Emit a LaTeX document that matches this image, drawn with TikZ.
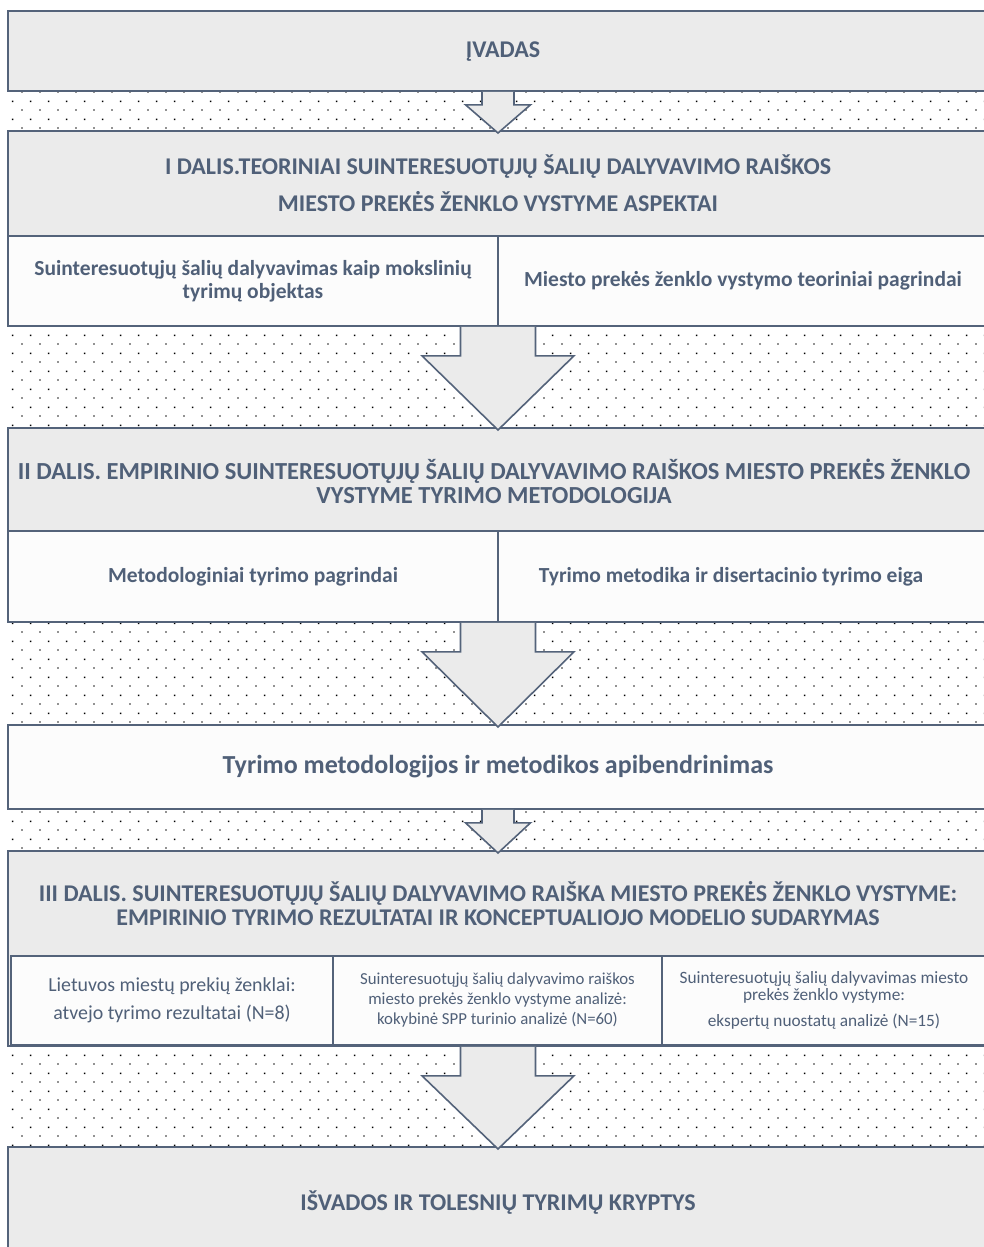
\documentclass[tikz,border=0pt]{standalone}
\usepackage{fontspec}
\setmainfont{Carlito}
\usetikzlibrary{calc,patterns.meta}

\definecolor{slate}{RGB}{84,99,122}
\definecolor{ink}{RGB}{80,96,120}
\definecolor{panel}{RGB}{235,235,235}
\definecolor{paper}{RGB}{252,252,252}

% staggered dot screen used between the blocks
\tikzdeclarepattern{
  name=stagdots,
  type=uncolored,
  bounding box={(0pt,0pt) and (18pt,18pt)},
  tile size={(18pt,18pt)},
  code={
    \fill (3.6pt,3.6pt) rectangle (5pt,5pt);
    \fill (12.6pt,12.6pt) rectangle (14pt,14pt);
  }
}

% block arrow between two stacked boxes:
% #1 upper node, #2 lower node, #3 shaft half width, #4 head half width, #5 shaft length
\newcommand\blockarrow[5]{%
  \filldraw[arrowline]
    ($(#1.south)+(-#3,0.8)$) -- ++(0,#5) -- ++(#3-#4,0)
    -- ($(#2.north)+(0,2)$)
    -- ($(#1.south)+(#4,#5+0.8)$) -- ++(#3-#4,0) -- ++(0,-#5);
}

\begin{document}
\begin{tikzpicture}[x=1pt,y=-1pt,
  frame/.style={rectangle, draw=slate, line width=1.6pt, inner sep=0pt, outer sep=0pt},
  panelbox/.style={frame, fill=panel, minimum width=980pt},
  paperbox/.style={frame, fill=paper},
  heading/.style={text=ink, align=center, font=\bfseries\fontsize{24}{28}\selectfont},
  subhead/.style={text=ink, align=center, font=\bfseries\fontsize{21.5}{23}\selectfont},
  plain/.style={text=ink, align=center},
  arrowline/.style={draw=slate, fill=panel, line width=1.6pt, line join=miter}
]
\useasboundingbox (0,0) rectangle (984,1247);
\clip (0,0) rectangle (984,1247);
\fill[white] (0,0) rectangle (984,1247);

% dotted background behind the stack
\fill[pattern=stagdots, pattern color=black] (8,91) rectangle (990,1247);

% Introduction
\node[panelbox, minimum height=80pt] (intro) at (498,51) {};
\node[heading] (introtxt) at (503,52) {ĮVADAS};

% Part I
\node[panelbox, minimum height=195pt] (p1) at (498,228.5) {};
\node[heading, font=\bfseries\fontsize{24}{37}\selectfont] (p1txt) at (498,183.5)
  {I DALIS.TEORINIAI SUINTERESUOTŲJŲ ŠALIŲ DALYVAVIMO RAIŠKOS\\MIESTO PREKĖS ŽENKLO VYSTYME ASPEKTAI};
\node[paperbox, minimum width=490pt, minimum height=90pt, subhead] (p1a) at (253,281)
  {Suinteresuotųjų šalių dalyvavimas kaip mokslinių\\tyrimų objektas};
\node[paperbox, minimum width=490pt, minimum height=90pt, subhead] (p1b) at (743,281)
  {Miesto prekės ženklo vystymo teoriniai pagrindai};

% Part II
\node[panelbox, minimum height=194pt] (p2) at (498,525) {};
\node[heading, font=\bfseries\fontsize{24.5}{24}\selectfont] (p2txt) at (494,481)
  {II DALIS. EMPIRINIO SUINTERESUOTŲJŲ ŠALIŲ DALYVAVIMO RAIŠKOS MIESTO PREKĖS ŽENKLO\\VYSTYME TYRIMO METODOLOGIJA};
\node[paperbox, minimum width=490pt, minimum height=91pt, subhead] (p2a) at (253,576.5)
  {Metodologiniai tyrimo pagrindai};
\node[paperbox, minimum width=490pt, minimum height=91pt] (p2b) at (743,576.5) {};
\node[subhead] (p2btxt) at (731,576.5) {Tyrimo metodika ir disertacinio tyrimo eiga};

% Summary of the methodology
\node[paperbox, minimum width=980pt, minimum height=84pt, text=ink,
      font=\bfseries\fontsize{26}{28}\selectfont] (summ) at (498,767)
  {Tyrimo metodologijos ir metodikos apibendrinimas};

% Part III
\node[panelbox, minimum height=195pt] (p3) at (498,948.5) {};
\node[heading, font=\bfseries\fontsize{24}{24}\selectfont] (p3txt) at (498,903.5)
  {III DALIS. SUINTERESUOTŲJŲ ŠALIŲ DALYVAVIMO RAIŠKA MIESTO PREKĖS ŽENKLO VYSTYME:\\EMPIRINIO TYRIMO REZULTATAI IR KONCEPTUALIOJO MODELIO SUDARYMAS};
\node[paperbox, minimum width=322pt, minimum height=89pt, plain,
      font=\fontsize{19.9}{28}\selectfont] (p3a) at (172,1000.5)
  {Lietuvos miestų prekių ženklai:\\atvejo tyrimo rezultatai (N=8)};
\node[paperbox, minimum width=329pt, minimum height=89pt, plain,
      font=\fontsize{16.8}{20}\selectfont] (p3b) at (497.5,1000.5)
  {Suinteresuotųjų šalių dalyvavimo raiškos\\miesto prekės ženklo vystyme analizė:\\kokybinė SPP turinio analizė (N=60)};
\node[paperbox, minimum width=324pt, minimum height=89pt, plain,
      font=\fontsize{17.3}{17}\selectfont] (p3c) at (824,1000.5)
  {Suinteresuotųjų šalių dalyvavimas miesto\\prekės ženklo vystyme:\\[9pt]ekspertų nuostatų analizė (N=15)};

% Conclusions
\node[panelbox, minimum height=113pt] (concl) at (498,1203.5) {};
\node[heading] (concltxt) at (498,1203) {IŠVADOS IR TOLESNIŲ TYRIMŲ KRYPTYS};

% arrows between the blocks
\blockarrow{intro}{p1}{16}{32.5}{13}
\blockarrow{p1}{p2}{37.5}{76}{29}
\blockarrow{p2}{summ}{37.5}{76}{29}
\blockarrow{summ}{p3}{16}{32.5}{13}
\blockarrow{p3}{concl}{37.5}{76}{29}
\end{tikzpicture}
\end{document}
